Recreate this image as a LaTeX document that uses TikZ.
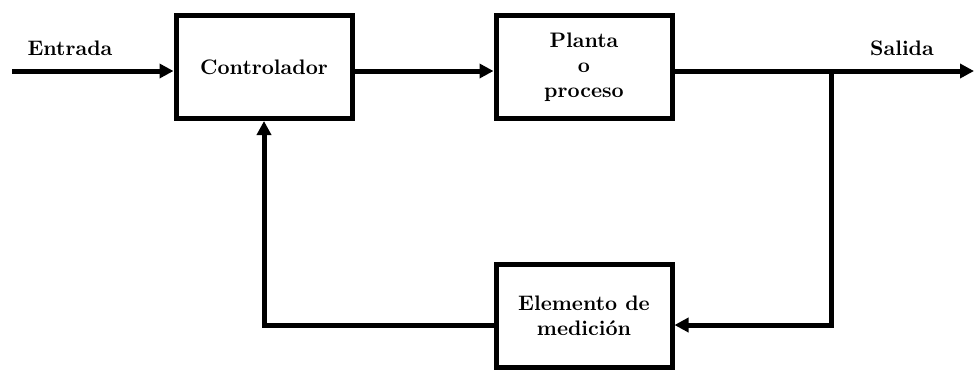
\documentclass[tikz,border=0pt]{standalone}
\usepackage{tikz}
\usetikzlibrary{arrows.meta,positioning}

\begin{document}
\begin{tikzpicture}[x=0.5pt, y=-0.5pt, line width=2.5pt, >={Triangle[length=7pt,width=7pt]},
    bloque/.style = {draw, rectangle, minimum width=88pt, minimum height=51.5pt, align=center,
      font=\fontsize{10.5}{12.5}\selectfont\bfseries},
    etiqueta/.style = {font=\fontsize{10.5}{12.5}\selectfont\bfseries}]
    \useasboundingbox (0,0) rectangle (974,371);
    \node[bloque] (ctrl) at (264,67) {Controlador};
    \node[bloque] (planta) at (584,67) {Planta\\o\\proceso};
    \node[bloque] (medicion) at (584,316) {Elemento de\\medici\'on};
    \coordinate (in) at (12,71);
    \coordinate (out) at (974,71);
    \coordinate (rama) at (831,71);
    \coordinate (abajo) at (831,325);
    \coordinate (esquina) at (264,325);
    \node[etiqueta] (entrada) at (70,48) {Entrada};
    \node[etiqueta] (salida) at (902,48) {Salida};

    \draw[->] (in) -- (in -| ctrl.west);
    \draw[->] (ctrl.east |- in) -- (planta.west |- in);
    \draw[->] (planta.east |- in) -- (out);
    \draw[->] (rama) -- (abajo) -- (abajo -| medicion.east);
    \draw[->] (esquina -| medicion.west) -- (esquina) -- (ctrl.south);
  \end{tikzpicture}
\end{document}
